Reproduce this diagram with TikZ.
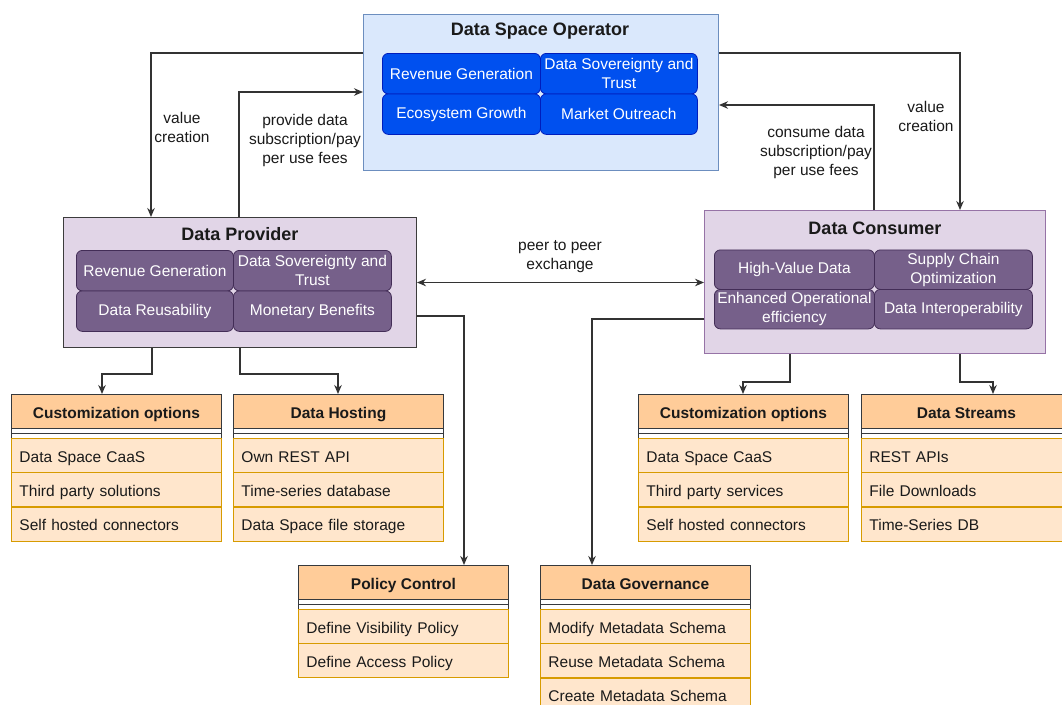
\documentclass[tikz,border=0pt]{standalone}
\usepackage{fontspec}
\setmainfont{Liberation Sans}
\usetikzlibrary{arrows.meta,calc}

\definecolor{opFill}{HTML}{DAE8FC}
\definecolor{opDraw}{HTML}{6C8EBF}
\definecolor{blueCell}{HTML}{0050EF}
\definecolor{blueCellDraw}{HTML}{001DBC}
\definecolor{roleFill}{HTML}{E1D5E7}
\definecolor{roleDraw}{HTML}{9673A6}
\definecolor{provDraw}{HTML}{3C3C3C}
\definecolor{purpleCell}{HTML}{76608A}
\definecolor{purpleCellDraw}{HTML}{432D57}
\definecolor{headFill}{HTML}{FFCC99}
\definecolor{headDraw}{HTML}{36393D}
\definecolor{rowFill}{HTML}{FFE6CC}
\definecolor{rowDraw}{HTML}{D79B00}
\definecolor{wire}{HTML}{333333}
\definecolor{ink}{HTML}{1A1A1A}

\tikzset{
  txt/.style={font=\fontsize{15.5}{19}\selectfont, text=ink},
  rolebox/.style={draw, line width=1pt, anchor=north west, inner sep=0pt},
  roletitle/.style={font=\fontsize{18}{22}\selectfont\bfseries, text=ink, inner sep=0pt},
  cellbase/.style={anchor=north west, rounded corners=6pt, draw, line width=0.8pt,
    text=white, align=center, inner sep=1pt, font=\fontsize{15.5}{19}\selectfont},
  opcell/.style={cellbase, fill=blueCell, draw=blueCellDraw, minimum width=#1, minimum height=40.5pt},
  pcell/.style={cellbase, fill=purpleCell, draw=purpleCellDraw, minimum width=#1, minimum height=40.5pt},
  ccell/.style={cellbase, fill=purpleCell, draw=purpleCellDraw, minimum width=#1, minimum height=39.5pt},
  lhead/.style={anchor=north west, minimum width=210pt, minimum height=34pt, inner sep=0pt,
    fill=headFill, draw=headDraw, line width=0.9pt, text=ink,
    text height=15pt, text depth=1.5pt,
    font=\fontsize{15.5}{19}\selectfont\bfseries},
  lgap/.style={anchor=north west, minimum width=210pt, minimum height=10pt, inner sep=0pt,
    fill=white, draw=headDraw, line width=0.9pt},
  lsep/.style={draw=headDraw, line width=0.9pt},
  lrow/.style={anchor=north west, text width=194pt, inner xsep=8pt, inner ysep=0pt,
    minimum height=34pt, align=left, fill=rowFill, draw=rowDraw, line width=0.9pt,
    text height=15pt, text depth=1.5pt, txt},
  conn/.style={draw=wire, line width=1.2pt, -{Stealth[length=9pt,width=7.5pt]}},
  conn2/.style={draw=wire, line width=1.2pt, {Stealth[length=9pt,width=7.5pt]}-{Stealth[length=9pt,width=7.5pt]}},
  lbl/.style={txt, align=center, inner sep=0pt},
}

% list box: header, separator strip, then rows added with \listrow
\newcommand{\listhead}[4]{%
  \node[lgap] (#1-gap) at (#2,#3+34) {};
  \draw[lsep] (#1-gap.west) -- (#1-gap.east);
  \node[lhead] (#1) at (#2,#3) {#4};
}
\newcommand{\listrow}[4]{\node[lrow] (#1) at (#2,#3) {#4};}

\begin{document}
\begin{tikzpicture}[x=1pt,y=-1pt]
\useasboundingbox (0,0) rectangle (1062,704);
\fill[white] (0,0) rectangle (1062,704);
\clip (0,0) rectangle (1062,704);

% ---------- Data Space Operator ----------
\node[rolebox, fill=opFill, draw=opDraw, minimum width=355pt, minimum height=156pt] (op) at (363,14) {};
\node[roletitle] (opT) at (540,31) {Data Space Operator};
\node[opcell=158pt] (op11) at (382,53) {Revenue Generation};
\node[opcell=157pt] (op12) at (540,53) {Data Sovereignty and\\Trust};
\node[opcell=158pt] (op21) at (382,93.5) {Ecosystem Growth};
\node[opcell=157pt] (op22) at (540,93.5) {Market Outreach};

% ---------- Data Provider ----------
\node[rolebox, fill=roleFill, draw=provDraw, minimum width=353pt, minimum height=130pt] (prov) at (63,217) {};
\node[roletitle] (provT) at (240,234) {Data Provider};
\node[pcell=157pt] (p11) at (76,250) {Revenue Generation};
\node[pcell=158pt] (p12) at (233,250) {Data Sovereignty and\\Trust};
\node[pcell=157pt] (p21) at (76,290.5) {Data Reusability};
\node[pcell=158pt] (p22) at (233,290.5) {Monetary Benefits};

% ---------- Data Consumer ----------
\node[rolebox, fill=roleFill, draw=roleDraw, minimum width=341pt, minimum height=143pt] (cons) at (704,210) {};
\node[roletitle] (consT) at (875,228) {Data Consumer};
\node[ccell=160pt] (c11) at (714,249.5) {High-Value Data};
\node[ccell=158pt] (c12) at (874,249.5) {Supply Chain\\Optimization};
\node[ccell=160pt] (c21) at (714,289) {Enhanced Operational\\efficiency};
\node[ccell=158pt] (c22) at (874,289) {Data Interoperability};

% ---------- list boxes ----------
\listhead{cust1}{11}{394}{Customization options}
\listrow{cust1-1}{11}{438}{Data Space CaaS}
\listrow{cust1-2}{11}{472.3}{Third party solutions}
\listrow{cust1-3}{11}{506.6}{Self hosted connectors}

\listhead{host}{233}{394}{Data Hosting}
\listrow{host-1}{233}{438}{Own REST API}
\listrow{host-2}{233}{472.3}{Time-series database}
\listrow{host-3}{233}{506.6}{Data Space file storage}

\listhead{cust2}{638}{394}{Customization options}
\listrow{cust2-1}{638}{438}{Data Space CaaS}
\listrow{cust2-2}{638}{472.3}{Third party services}
\listrow{cust2-3}{638}{506.6}{Self hosted connectors}

\listhead{strm}{861}{394}{Data Streams}
\listrow{strm-1}{861}{438}{REST APIs}
\listrow{strm-2}{861}{472.3}{File Downloads}
\listrow{strm-3}{861}{506.6}{Time-Series DB}

\listhead{pol}{298}{565}{Policy Control}
\listrow{pol-1}{298}{609}{Define Visibility Policy}
\listrow{pol-2}{298}{643.3}{Define Access Policy}

\listhead{gov}{540}{565}{Data Governance}
\listrow{gov-1}{540}{609}{Modify Metadata Schema}
\listrow{gov-2}{540}{643.3}{Reuse Metadata Schema}
\listrow{gov-3}{540}{677.6}{Create Metadata Schema}

% ---------- connectors ----------
% value creation towards the provider
\draw[conn] ([yshift=-39pt]op.north west) -| ([xshift=88pt]prov.north west);
\node[lbl] (vcL) at (182,127) {value\\creation};

% provider pays the operator
\draw[conn] ([xshift=176pt]prov.north west) |- ([yshift=-78pt]op.north west);
\node[lbl] (payP) at (305,140) {provide data\\subscription/pay\\per use fees};

% value creation towards the consumer
\draw[conn] ([yshift=-39pt]op.north east) -| ([xshift=256pt]cons.north west);
\node[lbl] (vcR) at (926,116) {value\\creation};

% consumer pays the operator
\draw[conn] ([xshift=170pt]cons.north west) |- ([yshift=-91pt]op.north east);
\node[lbl] (payC) at (816,152) {consume data\\subscription/pay\\per use fees};

% peer to peer exchange
\draw[conn2] (prov.east) -- (prov.east -| cons.west);
\node[lbl] (p2p) at (560,257) {peer to peer\\exchange};

% provider to its option lists
\draw[conn] ([xshift=89pt]prov.south west) -- ++(0,26) -| ([xshift=91pt]cust1.north west);
\draw[conn] ([xshift=177pt]prov.south west) -- ++(0,26) -| ([xshift=105pt]host.north west);
\draw[conn] ([yshift=-99pt]prov.north east) -| ([xshift=166pt]pol.north west);

% consumer to its option lists
\draw[conn] ([yshift=-109pt]cons.north west) -| ([xshift=52pt]gov.north west);
\draw[conn] ([xshift=86pt]cons.south west) -- ++(0,28) -| ([xshift=105pt]cust2.north west);
\draw[conn] ([xshift=256pt]cons.south west) -- ++(0,28) -| ([xshift=132pt]strm.north west);
\end{tikzpicture}
\end{document}
